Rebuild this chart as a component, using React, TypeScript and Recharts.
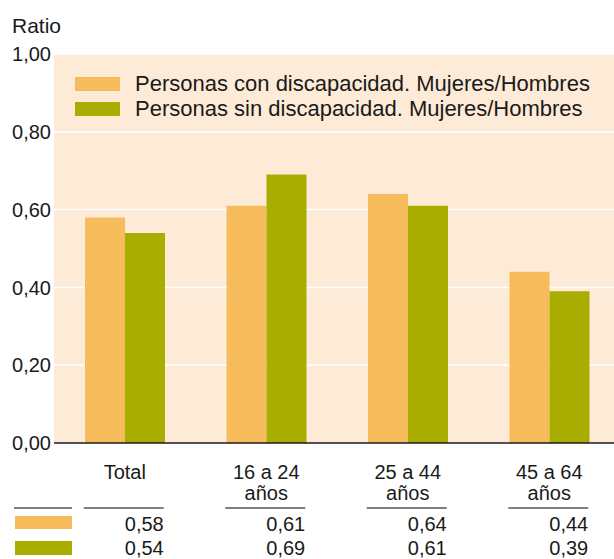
import React from "react";
import { BarChart, Bar, XAxis, YAxis, CartesianGrid, Legend } from "recharts";

const categories = ["Total", "16 a 24\naños", "25 a 44\naños", "45 a 64\naños"];
const conDiscapacidad = [0.58, 0.61, 0.64, 0.44];
const sinDiscapacidad = [0.54, 0.69, 0.61, 0.39];
const yTicks = [0, 0.2, 0.4, 0.6, 0.8, 1];

const ORANGE = "#f6bc5b";
const GREEN = "#a9ad00";
const BG = "#fdebd7";
const INK = "#1a1a1a";
const FONT = "'Liberation Sans', Arial, sans-serif";

const data = categories.map((name, i) => ({
  name,
  con: conDiscapacidad[i],
  sin: sinDiscapacidad[i],
}));

const fmt = (v: number) => v.toFixed(2).replace(".", ",");

function CategoryTick(props: any) {
  const { x, y, payload } = props;
  const i = payload.index;
  const lines = String(payload.value).split("\n");
  return (
    <g fontFamily={FONT} fontSize={20} fill={INK}>
      {lines.map((l: string, k: number) => (
        <text key={k} x={x} y={y + 36 + k * 21} textAnchor="middle" fill={INK}>
          {l}
        </text>
      ))}
      <line x1={x - 41} x2={x + 39} y1={y + 65} y2={y + 65} stroke="#555" strokeWidth={1.5} />
      <text x={x + 39} y={y + 88} textAnchor="end" fill={INK}>
        {fmt(conDiscapacidad[i])}
      </text>
      <text x={x + 39} y={y + 112} textAnchor="end" fill={INK}>
        {fmt(sinDiscapacidad[i])}
      </text>
    </g>
  );
}

function LegendBox(props: any) {
  const items = props.payload || [];
  return (
    <svg width={530} height={60} style={{ display: "block", overflow: "visible" }}>
      {items.map((it: any, k: number) => (
        <g key={k}>
          <rect x={0} y={9 + k * 25} width={45} height={14} fill={it.color} />
          <text x={60} y={23 + k * 25} fontFamily={FONT} fontSize={22} fill={INK}>
            {it.value}
          </text>
        </g>
      ))}
    </svg>
  );
}

export default function App() {
  return (
    <div style={{ position: "absolute", left: 0, top: 0, width: 614, height: 559, overflow: "hidden", background: "#fff" }}>
      <BarChart
        width={620}
        height={559}
        data={data}
        margin={{ top: 54, right: 0, left: 0, bottom: 0 }}
        barGap={0}
        style={{ fontFamily: FONT }}
      >
        <CartesianGrid vertical={false} stroke="#ffffff" strokeWidth={1.5} fill={BG} />
        <YAxis
          width={54}
          domain={[0, 1]}
          ticks={yTicks}
          tickFormatter={fmt}
          axisLine={false}
          tickLine={false}
          tickSize={0}
          tickMargin={3}
          tick={{ fontSize: 20, fill: INK, fontFamily: FONT }}
        />
        <XAxis
          dataKey="name"
          height={116}
          interval={0}
          axisLine={{ stroke: INK, strokeWidth: 1.5 }}
          tickLine={false}
          tickSize={0}
          tickMargin={0}
          tick={<CategoryTick />}
        />
        <Legend
          layout="vertical"
          align="center"
          verticalAlign="middle"
          wrapperStyle={{ left: 75, top: 68, width: 530 }}
          content={<LegendBox />}
        />
        <Bar dataKey="con" name="Personas con discapacidad. Mujeres/Hombres" fill={ORANGE} barSize={40} isAnimationActive={false} />
        <Bar dataKey="sin" name="Personas sin discapacidad. Mujeres/Hombres" fill={GREEN} barSize={40} isAnimationActive={false} />
        <text x={12} y={33} fontFamily={FONT} fontSize={21} fill={INK}>
          Ratio
        </text>
        <line x1={14} x2={72} y1={508} y2={508} stroke="#555" strokeWidth={1.5} />
        <rect x={15} y={516} width={57} height={13} fill={ORANGE} />
        <rect x={15} y={541} width={57} height={14} fill={GREEN} />
      </BarChart>
    </div>
  );
}
